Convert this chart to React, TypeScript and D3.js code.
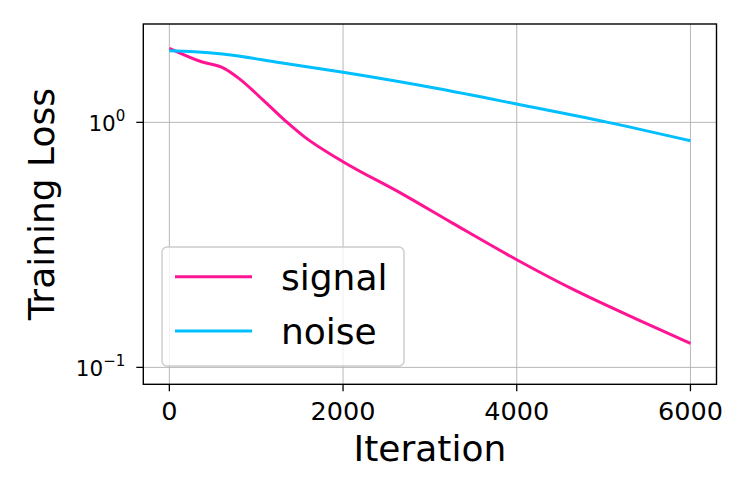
import * as d3 from "d3";

// values
const signalIter = [0, 370, 630, 800, 1080, 1360, 1560, 2000, 2670, 3260, 4000, 4650, 5360, 6000];
const signalLoss = [2.005, 1.767, 1.661, 1.512, 1.233, 0.997, 0.87, 0.691, 0.513, 0.388, 0.275, 0.208, 0.1585, 0.1253];
const noiseIter = [0, 290, 610, 1280, 2000, 3070, 4000, 5050, 6000];
const noiseLoss = [1.96, 1.94, 1.9, 1.751, 1.6, 1.377, 1.188, 1.0, 0.841];

const xTicks = [0, 2000, 4000, 6000];
const yTicks = [1, 0.1];
const yTickExp = ["0", "\u22121"];

const seriesNames = ["signal", "noise"];
const seriesColors = ["#ff1493", "#00bfff"];

const width = 747;
const height = 498;
const margin = { top: 24, right: 30.5, bottom: 113.7, left: 143.3 };
const font = "DejaVu Sans, sans-serif";

type Pt = { it: number; loss: number };

export default function App() {
  const x = d3
    .scaleLinear()
    .domain([-300, 6300])
    .range([margin.left, width - margin.right]);
  const y = d3
    .scaleLog()
    .domain([0.0853, 2.52])
    .range([height - margin.bottom, margin.top]);

  const line = d3
    .line<Pt>()
    .x(d => x(d.it))
    .y(d => y(d.loss))
    .curve(d3.curveMonotoneX);

  const series: Pt[][] = [
    signalIter.map((it, i) => ({ it, loss: signalLoss[i] })),
    noiseIter.map((it, i) => ({ it, loss: noiseLoss[i] })),
  ];

  const x0 = margin.left;
  const x1 = width - margin.right;
  const y0 = height - margin.bottom;
  const y1 = margin.top;

  // legend box
  const lg = { x: 162, y: 247, w: 242, h: 119 };
  const rowY = [276.7, 331];

  return (
    <svg
      width={width}
      height={height}
      style={{ position: "absolute", left: 0, top: 0, background: "#fff" }}
      fontFamily={font}
    >
      <defs>
        <clipPath id="plot">
          <rect x={x0} y={y1} width={x1 - x0} height={y0 - y1} />
        </clipPath>
      </defs>

      {/* grid */}
      <g stroke="#b0b0b0" strokeWidth={0.9}>
        {xTicks.map(t => (
          <line key={"gx" + t} x1={x(t)} x2={x(t)} y1={y1} y2={y0} />
        ))}
        {yTicks.map(t => (
          <line key={"gy" + t} x1={x0} x2={x1} y1={y(t)} y2={y(t)} />
        ))}
      </g>

      {/* lines */}
      <g clipPath="url(#plot)" fill="none" strokeWidth={3}>
        {series.map((s, i) => (
          <path key={seriesNames[i]} d={line(s) ?? ""} stroke={seriesColors[i]} />
        ))}
      </g>

      {/* frame */}
      <rect x={x0} y={y1} width={x1 - x0} height={y0 - y1} fill="none" stroke="#000" strokeWidth={1.4} />

      {/* x ticks */}
      {xTicks.map(t => (
        <g key={"xt" + t}>
          <line x1={x(t)} x2={x(t)} y1={y0} y2={y0 + 7} stroke="#000" strokeWidth={1.3} />
          <text x={x(t)} y={420} fontSize={25.5} textAnchor="middle" fill="#000">
            {t}
          </text>
        </g>
      ))}

      {/* y ticks */}
      {yTicks.map((t, i) => (
        <g key={"yt" + t}>
          <line x1={x0 - 7} x2={x0} y1={y(t)} y2={y(t)} stroke="#000" strokeWidth={1.3} />
          <text x={x0 - 18} y={y(t) + 8.5} fontSize={21.5} textAnchor="end" fill="#000">
            10
            <tspan fontSize={15} dy={-9.5}>
              {yTickExp[i]}
            </tspan>
          </text>
        </g>
      ))}

      {/* axis labels */}
      <text x={(x0 + x1) / 2} y={461} fontSize={36} textAnchor="middle" fill="#000">
        Iteration
      </text>
      <text
        transform={`translate(53.5,${(y0 + y1) / 2}) rotate(-90)`}
        fontSize={36}
        textAnchor="middle"
        fill="#000"
      >
        Training Loss
      </text>

      {/* legend */}
      <rect
        x={lg.x}
        y={lg.y}
        width={lg.w}
        height={lg.h}
        rx={5}
        fill="#fff"
        fillOpacity={0.8}
        stroke="#cccccc"
        strokeWidth={1.4}
      />
      {seriesNames.map((n, i) => (
        <g key={"lg" + n}>
          <line x1={175} x2={252} y1={rowY[i]} y2={rowY[i]} stroke={seriesColors[i]} strokeWidth={3} />
          <text x={281} y={rowY[i] + 13} fontSize={36} fill="#000">
            {n}
          </text>
        </g>
      ))}
    </svg>
  );
}
